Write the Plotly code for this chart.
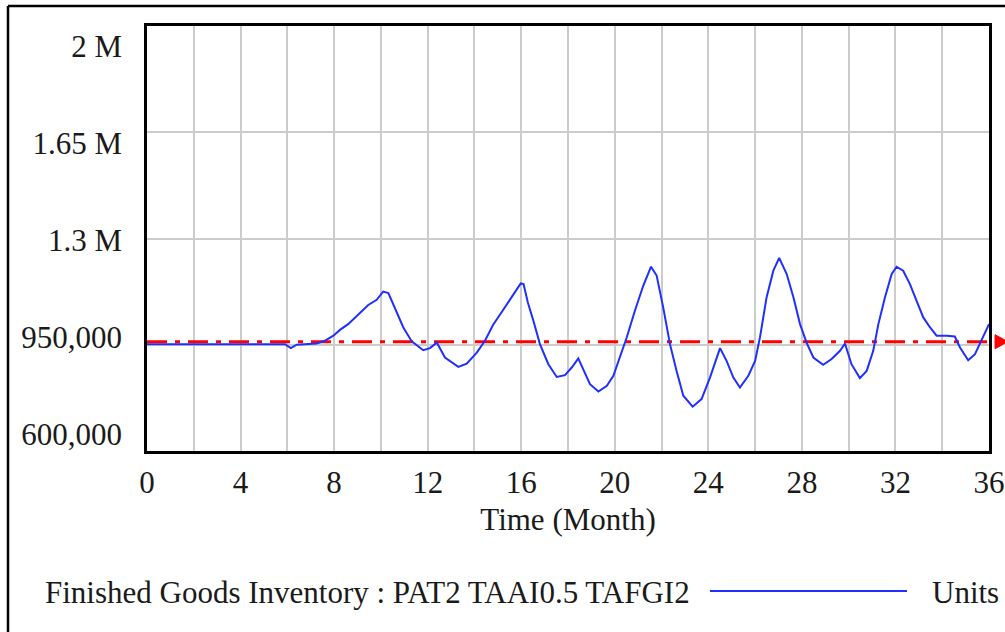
import numpy as np
import plotly.graph_objects as go

# ---------------- data ----------------
time_month = [0, 5.9, 6.15, 6.4, 7.25, 7.6, 7.97, 8.25, 8.6, 9.03, 9.46, 9.82, 10.1, 10.32,
              10.6, 10.96, 11.32, 11.81, 12.1, 12.39, 12.74, 13.31, 13.67, 14.1, 14.45, 14.8,
              15.16, 15.59, 15.98, 16.1, 16.28, 16.52, 16.8, 17.16, 17.52, 17.87, 18.16, 18.44,
              18.66, 18.94, 19.3, 19.66, 19.94, 20.22, 20.51, 20.86, 21.22, 21.55, 21.79, 22.07,
              22.36, 22.64, 22.93, 23.33, 23.71, 24.07, 24.5, 24.78, 25.07, 25.35, 25.71, 26.0,
              26.21, 26.49, 26.78, 27.03, 27.35, 27.64, 27.92, 28.2, 28.49, 28.91, 29.27, 29.63,
              29.84, 30.12, 30.48, 30.77, 31.05, 31.27, 31.55, 31.84, 32.05, 32.33, 32.62, 32.9,
              33.19, 33.48, 33.76, 34.19, 34.54, 34.76, 35.11, 35.4, 35.68, 35.97, 36.0]
inventory_units = [952000, 952000, 939000, 950000, 954000, 963000, 980000, 999000, 1018000,
                   1051000, 1081000, 1098000, 1125000, 1120000, 1073000, 1007000, 961000, 932000,
                   939000, 957000, 908000, 877000, 888000, 924000, 963000, 1016000, 1057000,
                   1106000, 1152000, 1150000, 1090000, 1029000, 952000, 886000, 844000, 850000,
                   875000, 905000, 870000, 820000, 796000, 815000, 848000, 908000, 974000,
                   1062000, 1145000, 1207000, 1178000, 1073000, 952000, 864000, 782000, 746000,
                   771000, 842000, 939000, 897000, 842000, 809000, 848000, 897000, 975000,
                   1106000, 1194000, 1236000, 1183000, 1106000, 1018000, 957000, 908000, 884000,
                   903000, 930000, 954000, 886000, 840000, 864000, 930000, 1018000, 1106000,
                   1183000, 1207000, 1194000, 1150000, 1095000, 1040000, 1007000, 980000, 980000,
                   977000, 941000, 899000, 919000, 963000, 1013000, 1018000]
ref_time = [0, 36]
ref_value = [960000, 960000]

x_ticks = list(range(0, 37, 2))
x_tick_labels = [str(v) if v % 4 == 0 else "" for v in x_ticks]
y_grid_values = [950000, 1300000, 1650000]
y_tick_labels = ["2 M", "1.65 M", "1.3 M", "950,000", "600,000"]

series_label = "Finished Goods Inventory : PAT2 TAAI0.5 TAFGI2"
units_label = "Units"
x_title = "Time (Month)"

# ---------------- layout constants ----------------
W, H = 1005, 632
ML, MR, MT, MB = 147, 16, 26, 181
Y_MIN, Y_MAX = 600000, 2000000
X_MIN, X_MAX = 0, 36
FONT = "Liberation Serif"
FS = 31
TXT = "#1a1a1a"
BLUE = "#1f2fff"
RED = "#ff0000"

pw = W - ML - MR
ph = H - MT - MB


def px_x(p):
    return (p - ML) / pw


def px_y(p):
    return (H - MB - p) / ph


span = Y_MAX - Y_MIN
lab_positions = list(np.linspace(Y_MAX - 0.047 * span, Y_MIN + 0.040 * span, 5))

# arrow head at the end of the reference line (paper coordinates)
ref_paper_y = (ref_value[-1] - Y_MIN) / span
ax_base = px_x(W - MR + 6)
ax_tip = px_x(W + 3)
a_h = 7 / ph
arrow_path = (f"M {ax_base},{ref_paper_y + a_h} L {ax_tip},{ref_paper_y} "
              f"L {ax_base},{ref_paper_y - a_h} Z")

fig = go.Figure()

fig.add_trace(go.Scatter(
    x=ref_time, y=ref_value, mode="lines",
    line=dict(color=RED, width=3, dash="20px,8px,5px,8px"),
    hoverinfo="skip", showlegend=False))

fig.add_trace(go.Scatter(
    x=time_month, y=inventory_units, mode="lines",
    line=dict(color=BLUE, width=2),
    name=series_label, showlegend=False))

# invisible trace to carry the label axis
fig.add_trace(go.Scatter(x=[None], y=[None], yaxis="y2", showlegend=False, hoverinfo="skip"))

fig.update_layout(
    width=W, height=H,
    margin=dict(l=ML, r=MR, t=MT, b=MB, pad=0, autoexpand=False),
    paper_bgcolor="white", plot_bgcolor="white",
    font=dict(family=FONT, size=FS, color=TXT),
    xaxis=dict(
        range=[X_MIN, X_MAX], tickvals=x_ticks, ticktext=x_tick_labels,
        showgrid=True, gridcolor="#cccccc", gridwidth=2,
        showline=True, linecolor="black", linewidth=3, mirror=True,
        ticks="", ticklabelstandoff=2, zeroline=False, automargin=False,
        title=dict(text=x_title, standoff=10, font=dict(family=FONT, size=FS, color=TXT)),
    ),
    yaxis=dict(
        range=[Y_MIN, Y_MAX], tickvals=y_grid_values, showticklabels=False,
        showgrid=True, gridcolor="#cccccc", gridwidth=2,
        showline=True, linecolor="black", linewidth=3, mirror=True,
        ticks="", zeroline=False, automargin=False,
    ),
    yaxis2=dict(
        range=[Y_MIN, Y_MAX], overlaying="y", side="left",
        tickvals=lab_positions, ticktext=y_tick_labels,
        showgrid=False, showline=False, zeroline=False, ticks="",
        ticklabelstandoff=24, automargin=False,
    ),
    shapes=[
        dict(type="line", xref="paper", yref="paper",
             x0=px_x(8), x1=px_x(W + 5), y0=px_y(6), y1=px_y(6),
             line=dict(color="black", width=2.5)),
        dict(type="line", xref="paper", yref="paper",
             x0=px_x(8), x1=px_x(8), y0=px_y(6), y1=px_y(H + 5),
             line=dict(color="black", width=2.5)),
        dict(type="line", xref="paper", yref="paper",
             x0=px_x(710), x1=px_x(907), y0=px_y(591), y1=px_y(591),
             line=dict(color=BLUE, width=2)),
        dict(type="path", xref="paper", yref="paper", path=arrow_path,
             fillcolor=RED, line=dict(color=RED, width=1)),
    ],
    annotations=[
        dict(text=series_label, xref="paper", yref="paper",
             x=px_x(43), y=px_y(592), xanchor="left", yanchor="middle",
             showarrow=False, font=dict(family=FONT, size=FS, color=TXT)),
        dict(text=units_label, xref="paper", yref="paper",
             x=px_x(930), y=px_y(592), xanchor="left", yanchor="middle",
             showarrow=False, font=dict(family=FONT, size=FS, color=TXT)),
    ],
)

fig.write_html("out.html", config={"displayModeBar": False},
               post_script="document.body.style.margin='0';document.body.style.overflow='hidden';")
